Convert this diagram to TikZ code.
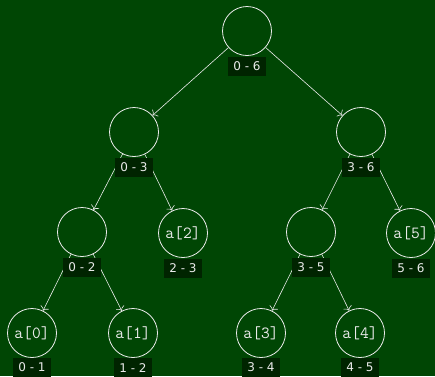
\documentclass[tikz,border=0pt]{standalone}
\usepackage{fontspec}
\newfontfamily\labelfont{DejaVu Sans}
\usepackage{tikz}
\usetikzlibrary{positioning,arrows.meta}

\definecolor{boardgreen}{RGB}{0,70,4}
\definecolor{boxgreen}{RGB}{0,36,0}
\definecolor{chalk}{RGB}{235,235,235}

\begin{document}
\begin{tikzpicture}[x=1pt, y=-1pt,
  seg/.style={circle, draw=chalk, line width=0.8pt, minimum size=49pt, inner sep=0pt,
    text=chalk, font=\ttfamily\fontsize{17}{19}\selectfont},
  rangebox/.style={fill=boxgreen, text=chalk, minimum height=19pt, inner xsep=5pt, inner ysep=0pt,
    font=\labelfont\fontsize{12}{14}\selectfont},
  edge/.style={draw=chalk, line width=0.6pt, -{To[length=4pt,width=9pt]}}]
  \fill[boardgreen] (0,0) rectangle (435,376);
  \useasboundingbox (0,0) rectangle (435,376);
  % tree of segments
  \node[seg] (r06) at (247,31) {};
  \node[seg] (r03) at (134,132) {};
  \node[seg] (r36) at (361,132) {};
  \node[seg] (r02) at (82,232) {};
  \node[seg] (r23) at (183,233) {a[2]};
  \node[seg] (r35) at (311,232) {};
  \node[seg] (r56) at (411,233) {a[5]};
  \node[seg] (r01) at (32,333) {a[0]};
  \node[seg] (r12) at (133,333) {a[1]};
  \node[seg] (r34) at (261,333) {a[3]};
  \node[seg] (r45) at (360,333) {a[4]};
  % connectors
  \draw[edge] (r06) -- (r03);
  \draw[edge] (r06) -- (r36);
  \draw[edge] (r03) -- (r02);
  \draw[edge] (r03) -- (r23);
  \draw[edge] (r36) -- (r35);
  \draw[edge] (r36) -- (r56);
  \draw[edge] (r02) -- (r01);
  \draw[edge] (r02) -- (r12);
  \draw[edge] (r35) -- (r34);
  \draw[edge] (r35) -- (r45);
  % index ranges
  \node[rangebox, below=0.5pt of r06] (l06) {0 - 6};
  \node[rangebox, below=0.5pt of r03] (l03) {0 - 3};
  \node[rangebox, below=0.5pt of r36] (l36) {3 - 6};
  \node[rangebox, below=0.5pt of r02] (l02) {0 - 2};
  \node[rangebox, below=0.5pt of r23] (l23) {2 - 3};
  \node[rangebox, below=0.5pt of r35] (l35) {3 - 5};
  \node[rangebox, below=0.5pt of r56] (l56) {5 - 6};
  \node[rangebox, below=0pt of r01] (l01) {0 - 1};
  \node[rangebox, below=0pt of r12] (l12) {1 - 2};
  \node[rangebox, below=0pt of r34] (l34) {3 - 4};
  \node[rangebox, below=0pt of r45] (l45) {4 - 5};
\end{tikzpicture}
\end{document}
